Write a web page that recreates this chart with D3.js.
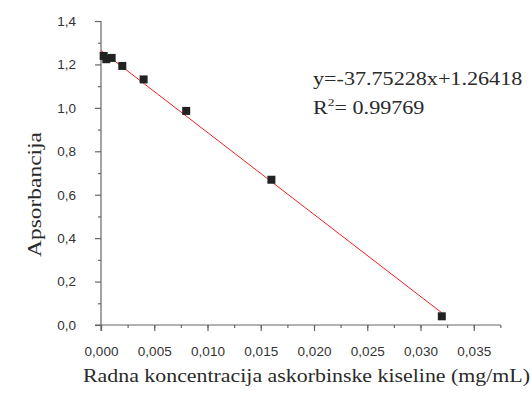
<!DOCTYPE html>
<html>
<head>
<meta charset="utf-8">
<script src="https://cdn.jsdelivr.net/npm/d3@7"></script>
<style>
  body { margin: 0; background: #fff; }
  svg { display: block; }
  .tick text { font-family: "Liberation Sans", Arial, sans-serif; font-size: 13.5px; fill: #333; }
  .ttl { font-family: "Liberation Serif", "Times New Roman", serif; fill: #2a2a2a; }
</style>
</head>
<body>
<svg id="chart" width="531" height="401"></svg>
<script>
// concentrations (mg/mL) and measured absorbance
var conc = [0.00025, 0.0005, 0.001, 0.002, 0.004, 0.008, 0.016, 0.032];
var absorb = [1.239, 1.224, 1.230, 1.193, 1.131, 0.986, 0.669, 0.040];
var fitSlope = -37.75228;
var fitIntercept = 1.26418;
var xTicks = [0, 0.005, 0.010, 0.015, 0.020, 0.025, 0.030, 0.035];
var yTicks = [0, 0.2, 0.4, 0.6, 0.8, 1.0, 1.2, 1.4];

var svg = d3.select("#chart");
var comma = function(fmt) {
	var f = d3.format(fmt);
	return function(d) { return f(d).replace(".", ","); };
};

var x = d3.scaleLinear().domain([0, 0.035]).range([101, 473.75]);
var y = d3.scaleLinear().domain([0, 1.4]).range([325, 21]);

// minor ticks first
svg.append("g")
	.attr("transform", "translate(0,325)")
	.call(d3.axisBottom(x).tickValues(d3.range(0, 0.0376, 0.0025)).tickSize(3).tickFormat(""))
	.call(function(g) { g.select(".domain").remove(); });
svg.append("g")
	.attr("transform", "translate(101,0)")
	.call(d3.axisLeft(y).tickValues(d3.range(0.1, 1.4, 0.2)).tickSize(3).tickFormat(""))
	.call(function(g) { g.select(".domain").remove(); });

var xAxis = svg.append("g")
	.attr("transform", "translate(0,325)")
	.call(d3.axisBottom(x).tickValues(xTicks).tickSize(6).tickPadding(15).tickFormat(comma(".3f")));
xAxis.select(".domain").remove();

var yAxis = svg.append("g")
	.attr("transform", "translate(101,0)")
	.call(d3.axisLeft(y).tickValues(yTicks).tickSize(6).tickPadding(19).tickFormat(comma(".1f")));
yAxis.select(".domain").remove();

// axis lines (cross at origin)
svg.append("line").attr("x1", 95).attr("x2", x(0.0375) + 0.5).attr("y1", 325).attr("y2", 325)
	.attr("stroke", "#666").attr("stroke-width", 1.2);
svg.append("line").attr("x1", 101).attr("x2", 101).attr("y1", y(1.4)).attr("y2", 331)
	.attr("stroke", "#666").attr("stroke-width", 1.2);
svg.selectAll(".tick line").attr("stroke", "#666").attr("stroke-width", 1.2);

// fit line
svg.append("line")
	.attr("x1", x(0)).attr("y1", y(fitIntercept))
	.attr("x2", x(0.032)).attr("y2", y(fitIntercept + fitSlope * 0.032))
	.attr("stroke", "#f02020").attr("stroke-width", 1);

// points
svg.selectAll("rect.pt")
	.data(conc)
	.enter()
	.append("rect")
	.attr("class", "pt")
	.attr("x", function(d) { return x(d) - 4; })
	.attr("y", function(d, i) { return y(absorb[i]) - 4; })
	.attr("width", 8)
	.attr("height", 8)
	.attr("fill", "#222");

// equation text, stretched horizontally like the original
var eq = svg.append("g").attr("transform", "translate(313,0) scale(1.23,1)");
eq.append("text").attr("class", "ttl")
	.attr("x", 0).attr("y", 85).attr("font-size", 18)
	.text("y=-37.75228x+1.26418");
var r2 = eq.append("text").attr("class", "ttl")
	.attr("x", 0).attr("y", 114).attr("font-size", 18);
r2.append("tspan").text("R");
r2.append("tspan").attr("font-size", 11).attr("dy", -8).text("2");
r2.append("tspan").attr("dy", 8).text("= 0.99769");

// axis titles
svg.append("text").attr("class", "ttl")
	.attr("x", 83).attr("y", 382).attr("font-size", 18)
	.attr("textLength", 447).attr("lengthAdjust", "spacingAndGlyphs")
	.text("Radna koncentracija askorbinske kiseline (mg/mL)");
svg.append("text").attr("class", "ttl")
	.attr("transform", "translate(41,257) rotate(-90)")
	.attr("font-size", 18)
	.attr("textLength", 125).attr("lengthAdjust", "spacingAndGlyphs")
	.text("Apsorbancija");
</script>
</body>
</html>
